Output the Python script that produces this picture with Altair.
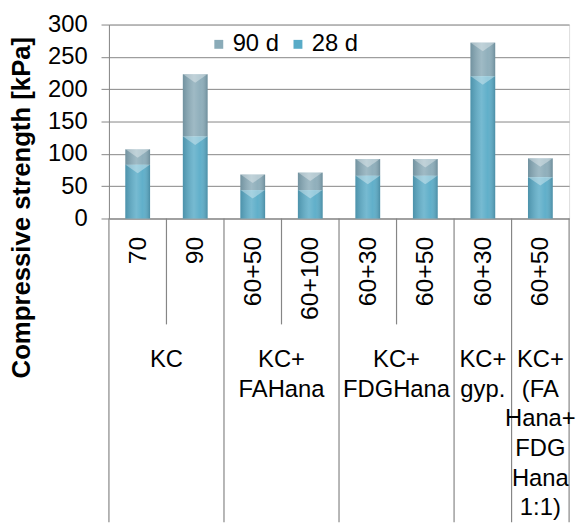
import altair as alt
import pandas as pd

# ---- data ----
sub_labels = ["70", "90", "60+50", "60+100", "60+30", "60+50", "60+30", "60+50"]
strength_28d = [83, 127, 44, 44, 66, 66, 220, 64]
strength_90d = [107, 223, 68, 71, 92, 92, 272, 93]
group_sizes = [2, 2, 2, 1, 1]
group_lines = [
    ["KC"],
    ["KC+", "FAHana"],
    ["KC+", "FDGHana"],
    ["KC+", "gyp."],
    ["KC+", "(FA", "Hana+", "FDG", "Hana", "1:1)"],
]
series_names = ["90 d", "28 d"]
series_colors = ["#8aabb8", "#58abc7"]
y_ticks = [0, 50, 100, 150, 200, 250, 300]
y_title = "Compressive strength [kPa]"

keys = [f"{i}|{s}" for i, s in enumerate(sub_labels)]

# bar segments: 90 d drawn behind (from 28 d top to 90 d top), 28 d in front
rows = []
for k, a, b in zip(keys, strength_28d, strength_90d):
    rows.append({"key": k, "series": "90 d", "top": b, "bottom": a})
for k, a in zip(keys, strength_28d):
    rows.append({"key": k, "series": "28 d", "top": a, "bottom": 0})
bars_df = pd.DataFrame(rows)

# group structure
starts = []
s = 0
for n in group_sizes:
    starts.append(s)
    s += n
long_left = pd.DataFrame({"key": [keys[i] for i in starts]})
long_right = pd.DataFrame({"key": [keys[-1]]})
short_div = pd.DataFrame({"key": [keys[st] for st, n in zip(starts, group_sizes) if n == 2]})
glab2 = pd.DataFrame({"key": [keys[st] for st, n in zip(starts, group_sizes) if n == 2],
                      "lines": [gl for gl, n in zip(group_lines, group_sizes) if n == 2]})
glab1 = pd.DataFrame({"key": [keys[st] for st, n in zip(starts, group_sizes) if n == 1],
                      "lines": [gl for gl, n in zip(group_lines, group_sizes) if n == 1]})
title_df = pd.DataFrame({"t": [y_title]})

GRID = "#868686"
FONT = "Liberation Sans"
W, H = 465, 196

xscale = alt.Scale(domain=keys, paddingInner=0, paddingOuter=0)
yscale = alt.Scale(domain=[0, 300])

x_axis = alt.Axis(
    title=None, labelAngle=270, labelFontSize=25, labelPadding=18, ticks=False,
    domainColor=GRID, labelColor="black", labelFont=FONT,
    labelExpr="split(datum.label, '|')[1]",
)
y_axis = alt.Axis(
    title=None, values=y_ticks, grid=True, gridColor=GRID, gridOpacity=1,
    domainColor=GRID, tickColor=GRID, tickSize=8, labelFontSize=24,
    labelPadding=14, labelColor="black", labelFont=FONT,
)


def X(band=None):
    if band is None:
        return alt.X("key:N", scale=xscale, axis=x_axis, sort=keys, title=None)
    return alt.X("key:N", scale=xscale, axis=x_axis, sort=keys, title=None,
                 bandPosition=band)


def Y():
    return alt.Y("top:Q", scale=yscale, axis=y_axis, title=None)


bars = alt.Chart(bars_df).mark_bar(size=25).encode(
    x=X(),
    y=Y(),
    y2="bottom:Q",
    color=alt.Color(
        "series:N",
        scale=alt.Scale(domain=series_names, range=series_colors),
        legend=alt.Legend(
            orient="none", legendX=99, legendY=8, direction="horizontal",
            title=None, symbolType="square", symbolSize=81, symbolStrokeWidth=0,
            labelFontSize=24, labelFont=FONT, labelColor="black",
            columnPadding=7, labelOffset=2,
        ),
    ),
)

shade = alt.Chart(bars_df).mark_bar(
    size=25,
    color=alt.Gradient(
        gradient="linear", x1=0, x2=1, y1=0, y2=0,
        stops=[
            alt.GradientStop(color="rgba(40,70,85,0.25)", offset=0),
            alt.GradientStop(color="rgba(255,255,255,0.18)", offset=0.45),
            alt.GradientStop(color="rgba(255,255,255,0.05)", offset=0.7),
            alt.GradientStop(color="rgba(40,70,85,0.3)", offset=1),
        ],
    ),
).encode(x=X(), y=Y(), y2="bottom:Q")

chevron = alt.Chart(bars_df).mark_point(
    shape="M-1,0 L1,0 L0,0.7 Z", size=600, filled=True, color="white",
    opacity=0.35, strokeWidth=0,
).encode(x=X(), y=Y())

rule_style = dict(color=GRID, strokeWidth=1.2)
div_long_l = alt.Chart(long_left).mark_rule(**rule_style).encode(
    x=X(0), y=alt.value(H), y2=alt.value(H + 307),
)
div_long_r = alt.Chart(long_right).mark_rule(**rule_style).encode(
    x=X(1), y=alt.value(H), y2=alt.value(H + 307),
)
div_short = alt.Chart(short_div).mark_rule(**rule_style).encode(
    x=X(1), y=alt.value(H), y2=alt.value(H + 107),
)

gtext_style = dict(font=FONT, fontSize=24, lineHeight=30, align="center",
                   baseline="alphabetic", color="black")
glabels2 = alt.Chart(glab2).mark_text(**gtext_style).encode(
    x=X(1), y=alt.value(H + 150), text="lines",
)
glabels1 = alt.Chart(glab1).mark_text(**gtext_style).encode(
    x=X(0.5), y=alt.value(H + 150), text="lines",
)

ytitle = alt.Chart(title_df).mark_text(
    font=FONT, fontSize=26, fontWeight="bold", angle=270, align="center",
    baseline="middle", color="black",
).encode(x=alt.value(-88), y=alt.value(185), text="t:N")

chart = alt.layer(
    bars, shade, chevron, div_long_l, div_long_r, div_short, glabels2, glabels1, ytitle
).properties(
    width=W, height=H,
    autosize=alt.AutoSizeParams(type="none"),
    padding={"left": 102, "top": 14, "right": 10, "bottom": 307},
).configure_view(stroke=None).configure(font=FONT)

chart.save("out.html", embed_options={"renderer": "svg", "actions": False})
